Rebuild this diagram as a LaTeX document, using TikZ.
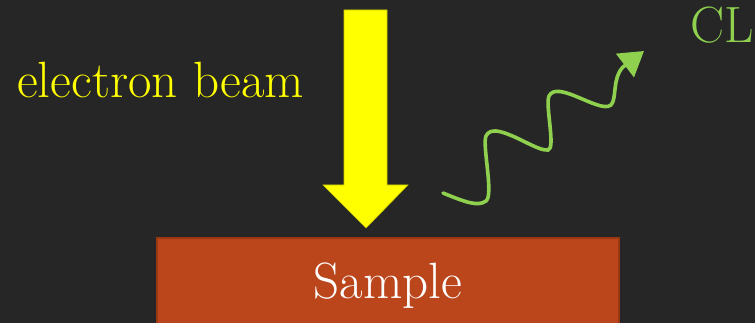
\documentclass[tikz,border=0pt]{standalone}
\usetikzlibrary{arrows.meta}

\definecolor{bgdark}{HTML}{262626}
\definecolor{beamyellow}{HTML}{FFFF00}
\definecolor{beamedge}{HTML}{C8C800}
\definecolor{clgreen}{HTML}{8FD14F}
\definecolor{samplefill}{HTML}{BB461C}
\definecolor{sampleedge}{HTML}{9A3814}

\tikzset{
  beamarrow/.style={fill=beamyellow, draw=beamedge, line width=0.6pt, line join=miter},
  samplebox/.style={rectangle, fill=samplefill, draw=sampleedge, line width=2pt,
    minimum width=462pt, minimum height=100pt, inner sep=0pt},
  photon/.style={draw=clgreen, line width=3.6pt, line cap=round,
    -{Triangle[length=24pt, width=29pt]}},
  bigtext/.style={inner sep=0pt, font=\fontsize{51}{56}\selectfont},
}

\begin{document}
\begin{tikzpicture}[x=1pt, y=-1pt]
  % canvas
  \useasboundingbox (0,0) rectangle (755,323);
  \clip (0,0) rectangle (755,323);
  \fill[bgdark] (0,0) rectangle (755,323);

  % the sample slab, running off the bottom edge
  \node[samplebox] (sample) at (388,288) {};
  \node[bigtext, anchor=base, text=white] (samplelabel) at (388,298) {Sample};

  % incoming electron beam, drawn as a block arrow
  \path[beamarrow] (344,10) -- (387,10) -- (387,185) -- (408,185) -- (366,228)
    -- (323,185) -- (344,185) -- cycle;
  \coordinate (beamtip) at (366,228);

  \node[bigtext, anchor=base west, text=beamyellow] (beamlabel) at (17,98) {electron beam};

  % emitted cathodoluminescence photon
  \coordinate (wavestart) at (443,193);
  \coordinate (waveend) at (644,51);
  \draw[photon] (wavestart)
    .. controls (465,202) and (478,207) .. (486,201)
    .. controls (494,195) and (482,145) .. (486,136)
    .. controls (490,128) and (500,131) .. (510,135)
    .. controls (525,141) and (540,151) .. (548,150)
    .. controls (556,149) and (545,105) .. (549,96)
    .. controls (553,88) and (565,92) .. (575,96)
    .. controls (590,102) and (605,110) .. (611,105)
    .. controls (617,99) and (612,78) .. (623,67)
    -- (waveend);

  \node[bigtext, anchor=base west, text=clgreen] (cllabel) at (690,43) {CL};
\end{tikzpicture}
\end{document}
